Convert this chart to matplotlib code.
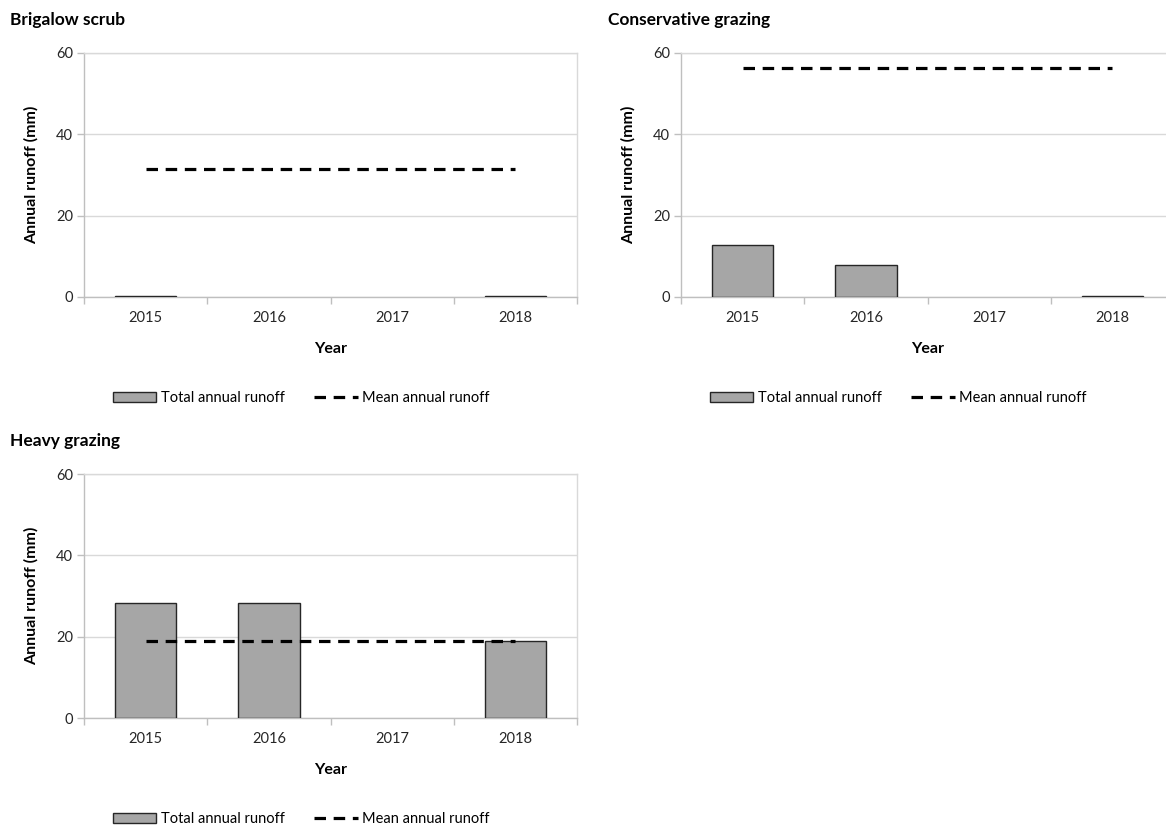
import matplotlib
matplotlib.use("Agg")
import matplotlib.pyplot as plt
from matplotlib.patches import Patch
from matplotlib.lines import Line2D

plt.rcParams['font.family'] = ['Lato', 'DejaVu Sans']

years = ["2015", "2016", "2017", "2018"]
titles = ["Brigalow scrub", "Conservative grazing", "Heavy grazing"]
brigalow_total = [0.3, 0.0, 0.0, 0.2]
conservative_total = [12.7, 7.9, 0.0, 0.2]
heavy_total = [28.3, 28.4, 0.0, 19.0]
brigalow_mean = 31.4
conservative_mean = 56.4
heavy_mean = 18.9
yticks = [0, 20, 40, 60]

W, H = 1166, 826
fig = plt.figure(figsize=(W / 100, H / 100), dpi=100)

def px(x0, x1, ytop, ybot):
    return [x0 / W, 1 - ybot / H, (x1 - x0) / W, (ybot - ytop) / H]

panels = [
    (titles[0], brigalow_total, brigalow_mean, px(84, 577, 53, 297), (10, 20), (301, 398)),
    (titles[1], conservative_total, conservative_mean, px(681, 1174, 53, 297), (608, 20), (898, 398)),
    (titles[2], heavy_total, heavy_mean, px(84, 577, 474, 718), (10, 441), (301, 819)),
]

bar_color = "#A6A6A6"
bar_edge = "#262626"
grid_color = "#D9D9D9"
axis_color = "#BFBFBF"
dash = (0, (3.6, 2.4))

for title, totals, mean, rect, tpos, lpos in panels:
    ax = fig.add_axes(rect)
    x = list(range(len(years)))
    edges = [bar_edge if v > 0 else "none" for v in totals]
    ax.bar(x, totals, width=0.5, color=bar_color, edgecolor=edges, linewidth=1.0, zorder=3)
    ax.plot(x, [mean] * len(years), color="black", linewidth=2.3, linestyle=dash, zorder=4)
    ax.set_xlim(-0.5, len(years) - 0.5)
    ax.set_ylim(0, 60)
    ax.set_yticks(yticks)
    ax.set_xticks(x)
    ax.set_xticklabels(years)
    ax.set_xticks([i - 0.5 for i in range(len(years) + 1)], minor=True)
    ax.tick_params(axis="x", which="major", length=0, pad=10, labelsize=10.5, colors="#262626")
    ax.tick_params(axis="x", which="minor", length=5, color=axis_color, width=1)
    ax.tick_params(axis="y", which="major", length=5, color=axis_color, width=1,
                   labelsize=10.5, labelcolor="#262626", pad=3)
    ax.yaxis.grid(True, color=grid_color, linewidth=1, zorder=0)
    ax.set_axisbelow(True)
    for s in ["left", "bottom"]:
        ax.spines[s].set_color(axis_color)
        ax.spines[s].set_linewidth(1)
    for s in ["top", "right"]:
        ax.spines[s].set_color(grid_color)
        ax.spines[s].set_linewidth(1)
    ax.set_ylabel("Annual runoff (mm)", fontsize=11.5, fontweight="bold", color="black")
    ax.yaxis.set_label_coords(-0.092, 0.5)
    ax.set_xlabel("Year", fontsize=11.5, fontweight="bold", color="black")
    ax.xaxis.set_label_coords(0.5, -0.185)
    fig.text(tpos[0] / W, 1 - tpos[1] / H, title, fontsize=12.5, fontweight="bold",
             ha="left", va="center")
    handles = [Patch(facecolor=bar_color, edgecolor=bar_edge, linewidth=1.0),
               Line2D([0], [0], color="black", linewidth=2.3, linestyle=dash)]
    fig.legend(handles, ["Total annual runoff", "Mean annual runoff"], loc="center",
               bbox_to_anchor=(lpos[0] / W, 1 - lpos[1] / H), ncol=2, frameon=False,
               fontsize=10.5, handlelength=3.0, handletextpad=0.3, columnspacing=2.0,
               borderaxespad=0, borderpad=0)

fig.savefig("out.png", dpi=100)
